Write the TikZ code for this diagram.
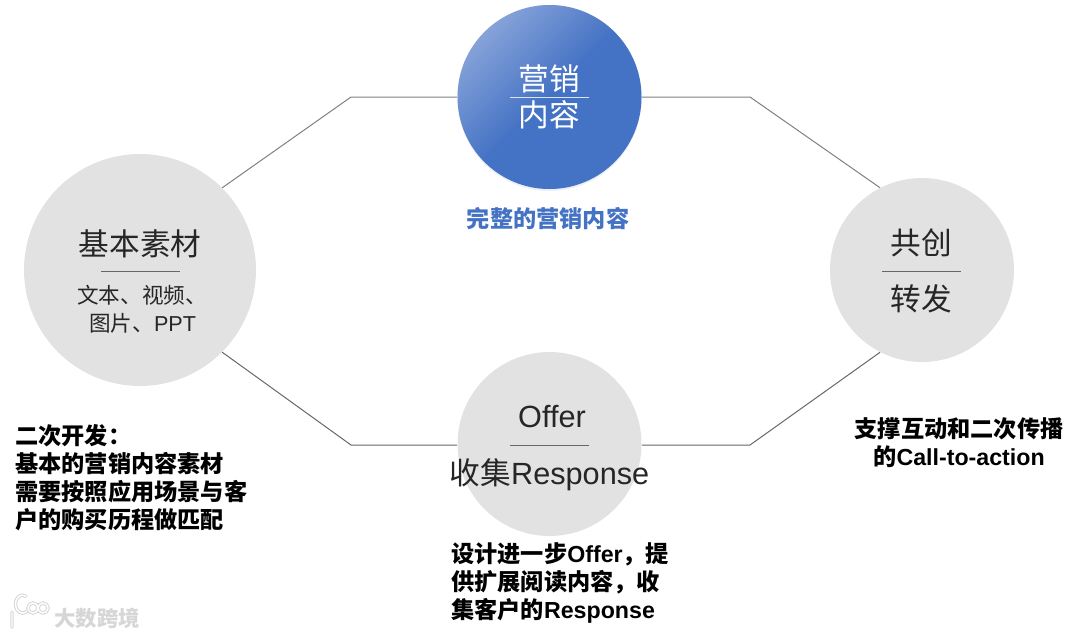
\documentclass[tikz,border=0pt]{standalone}
\usepackage{fontspec}
\setmainfont{Liberation Sans}
\newfontfamily\cjk{Noto Sans CJK SC}
\newcommand{\lat}[1]{{\rmfamily #1}}
\usetikzlibrary{shadows}
\definecolor{blueA}{HTML}{4472C4}
\definecolor{blueB}{HTML}{86A2D9}
\definecolor{greyA}{HTML}{E2E2E2}
\definecolor{inkA}{HTML}{262626}
\begin{document}
\begin{tikzpicture}[x=0.75pt,y=-0.75pt,
    hub/.style={circle, fill=greyA, inner sep=0pt, minimum size=138pt},
    e/.style={draw=inkA!70, line width=0.75pt},
    big/.style={text=inkA, font=\cjk\fontsize{23}{26}\selectfont},
    note/.style={text=black, align=left, anchor=north west, inner sep=0pt,
        font=\cjk\bfseries\fontsize{17.4}{21}\selectfont},
    logohalo/.style={black!16, line width=2.6pt, line cap=round},
    logoline/.style={white, line width=1.1pt, line cap=round}
]
    \useasboundingbox (0,0) rectangle (1080,637);

    % circles
    \node[hub, minimum size=174pt] (base) at (140,270) {};
    \node[hub] (share) at (922,270) {};
    \node[hub] (offer) at (549.5,444) {};
    \node[hub, top color=blueB, bottom color=blueA, middle color=blueA, shading angle=45,
        drop shadow={fill=blueA, opacity=0.10, shadow xshift=0pt, shadow yshift=-1.5pt}]
        (main) at (549.5,97) {};

    % bends
    \coordinate (tl) at (351,97);
    \coordinate (tr) at (750,97);
    \coordinate (bl) at (351,445);
    \coordinate (br) at (750,445);

    % connectors
    \draw[e, draw=black!50] (base.45)--(tl)--(main.west |- tl);
    \draw[e, draw=black!50] (main.east |- tr)--(tr)--(share.117);
    \draw[e] (base.-45)--(bl)--(offer.west |- bl);
    \draw[e] (offer.east |- br)--(br)--(share.-117);

    % dividers
    \coordinate (d1a) at (510,97);  \coordinate (d1b) at (589,97);
    \coordinate (d2a) at (101,271); \coordinate (d2b) at (180,271);
    \coordinate (d3a) at (882,271); \coordinate (d3b) at (961,271);
    \coordinate (d4a) at (510,445); \coordinate (d4b) at (589,445);
    \draw[white!80!blueA, line width=0.75pt] (d1a)--(d1b);
    \draw[e] (d2a)--(d2b);
    \draw[e] (d3a)--(d3b);
    \draw[e] (d4a)--(d4b);

    % circle texts
    \node[big, text=white] (main1) at (549.5,79) {营销};
    \node[big, text=white] (main2) at (549.5,115) {内容};
    \node[big] (base1) at (140,244) {基本素材};
    \node[big, font=\cjk\fontsize{16.2}{20}\selectfont, anchor=north west, inner sep=0pt, align=left]
        (base2) at (77,285) {文本、视频、\\[1pt]\hspace{9pt}图片、\lat{PPT}};
    \node[big] (share1) at (921,243) {共创};
    \node[big] (share2) at (921,299) {转发};
    \node[big] (offer1) at (552,417) {\lat{Offer}};
    \node[big] (offer2) at (549.5,475) {收集\lat{Response}};

    % notes
    \node[text=blueA, font=\cjk\bfseries\fontsize{17.4}{21}\selectfont] (mainnote) at (548,219) {完整的营销内容};
    \node[note] (basenote) at (15,424) {二次开发：\\基本的营销内容素材\\需要按照应用场景与客\\户的购买历程做匹配};
    \node[note, align=center, anchor=north] (sharenote) at (959,417) {支撑互动和二次传播\\的\lat{Call-to-action}};
    \node[note] (offernote) at (451,542) {设计进一步\lat{Offer}，提\\供扩展阅读内容，收\\集客户的\lat{Response}};

    % watermark
    \node[text=black!16, font=\cjk\bfseries\fontsize{16}{20}\selectfont] (mark) at (97,618) {大数跨境};
    \draw[logohalo] (12,612)--(12,627) (27,611) arc (50:300:7 and 9) (33,608) circle (5) (43,608) circle (5);
    \draw[logoline] (12,612)--(12,627) (27,611) arc (50:300:7 and 9) (33,608) circle (5) (43,608) circle (5);
\end{tikzpicture}
\end{document}
